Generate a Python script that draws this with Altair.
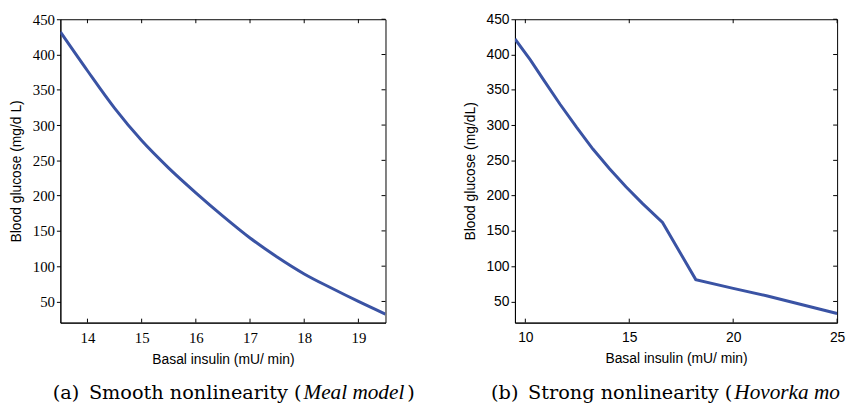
import altair as alt
import pandas as pd

# ---- data ----
meal_insulin = [13.5, 14.0, 14.5, 15.0, 15.5, 16.0, 16.5, 17.0, 17.5, 18.0, 18.5, 19.0, 19.5]
meal_glucose = [432, 377, 324, 278, 239, 204, 171, 140, 113, 89, 69, 50, 32]

hov_insulin = [9.5, 10.24, 10.87, 11.67, 12.46, 13.25, 14.05, 14.84, 15.63, 16.6,
               18.2, 20.0, 21.6, 25.0]
hov_glucose = [422, 392.5, 364.5, 329.5, 297, 266, 238, 212.5, 189, 162,
               81, 68.5, 58, 33]

meal_xticks = [14, 15, 16, 17, 18, 19]
hov_xticks = [10, 15, 20, 25]
glucose_ticks = [50, 100, 150, 200, 250, 300, 350, 400, 450]

meal_domain = [13.5, 19.5]
hov_domain = [9.5, 25]
glucose_domain = [20, 450]

x_title = "Basal insulin (mU/ min)"
y_title_a = "Blood glucose (mg/d L)"
y_title_b = "Blood glucose (mg/dL)"
caption_a = ["(a)\u2002Smooth nonlinearity (", "Meal model", ")"]
caption_b = ["(b)\u2002Strong nonlinearity (", "Hovorka model"]

LINE = "#3A53A4"
H = 307


def panel(xs, ys, xdom, xticks, width, lab_font, lab_size, ytitle, caption, cap_x, interp):
    df = pd.DataFrame({"x": xs, "y": ys})
    xt = pd.DataFrame({"t": xticks})
    yt = pd.DataFrame({"t": glucose_ticks})
    xscale = alt.Scale(domain=xdom, nice=False, zero=False)
    yscale = alt.Scale(domain=glucose_domain, nice=False, zero=False)
    xaxis = alt.Axis(values=xticks, ticks=False, grid=False, format="d",
                     labelFont=lab_font, labelFontSize=lab_size,
                     labelPadding=8, titlePadding=7, labelFlush=False,
                     labelOverlap=False, titleFontWeight="normal",
                     titleFont="Liberation Sans", titleFontSize=14)
    yaxis = alt.Axis(values=glucose_ticks, tickSize=4, grid=False, format="d",
                     labelFont=lab_font, labelFontSize=lab_size,
                     labelPadding=2, titlePadding=9, labelFlush=False,
                     labelOverlap=False, titleFontWeight="normal",
                     titleFont="Liberation Sans", titleFontSize=14)

    line = alt.Chart(df).mark_line(color=LINE, strokeWidth=3, clip=True,
                                   interpolate=interp).encode(
        x=alt.X("x:Q", scale=xscale, title=x_title, axis=xaxis),
        y=alt.Y("y:Q", scale=yscale, title=ytitle, axis=yaxis),
    )
    bottom = alt.Chart(xt).mark_rule(color="black", strokeWidth=1).encode(
        x=alt.X("t:Q", scale=xscale, title=x_title, axis=xaxis),
        y=alt.value(H), y2=alt.value(H - 4))
    top = alt.Chart(xt).mark_rule(color="black", strokeWidth=1).encode(
        x=alt.X("t:Q", scale=xscale, title=x_title, axis=xaxis),
        y=alt.value(0), y2=alt.value(4))
    right = alt.Chart(yt).mark_rule(color="black", strokeWidth=1).encode(
        y=alt.Y("t:Q", scale=yscale, title=ytitle, axis=yaxis),
        x=alt.value(width - 4), x2=alt.value(width))

    layers = [line, bottom, top, right]
    c1 = alt.Chart(pd.DataFrame({"c": [caption[0]]})).mark_text(
        align="right", baseline="alphabetic", font="DejaVu Serif", fontSize=19.5,
        color="black").encode(text="c:N", x=alt.value(cap_x[0]), y=alt.value(384))
    c2 = alt.Chart(pd.DataFrame({"c": [caption[1]]})).mark_text(
        align="left", baseline="alphabetic", font="Liberation Serif", fontStyle="italic",
        fontSize=21.5, color="black", limit=cap_x[2], ellipsis="\u200b").encode(
        text="c:N", x=alt.value(cap_x[1]), y=alt.value(384))
    layers += [c1, c2]
    if len(caption) > 2:
        c3 = alt.Chart(pd.DataFrame({"c": [caption[2]]})).mark_text(
            align="left", baseline="alphabetic", font="DejaVu Serif", fontSize=19.5,
            color="black").encode(text="c:N", x=alt.value(cap_x[3]), y=alt.value(384))
        layers.append(c3)
    return alt.layer(*layers).properties(width=width, height=H)


left = panel(meal_insulin, meal_glucose, meal_domain, meal_xticks, 329,
             "Liberation Serif", 15, y_title_a, caption_a, [244, 246, 200, 351], "monotone")
right = panel(hov_insulin, hov_glucose, hov_domain, hov_xticks, 326,
              "Liberation Sans", 14, y_title_b, caption_b, [220, 222, 112], "linear")

chart = alt.hconcat(left, right, spacing=131, bounds="flush").properties(
    padding={"left": 1, "top": 1, "right": 0, "bottom": 0}
).configure_view(stroke="black", strokeWidth=1).configure_axis(
    grid=False, domainColor="black", tickColor="black", labelColor="black",
    titleColor="black", domainWidth=1
)

chart.save("out.html", embed_options={"renderer": "svg", "actions": False})
